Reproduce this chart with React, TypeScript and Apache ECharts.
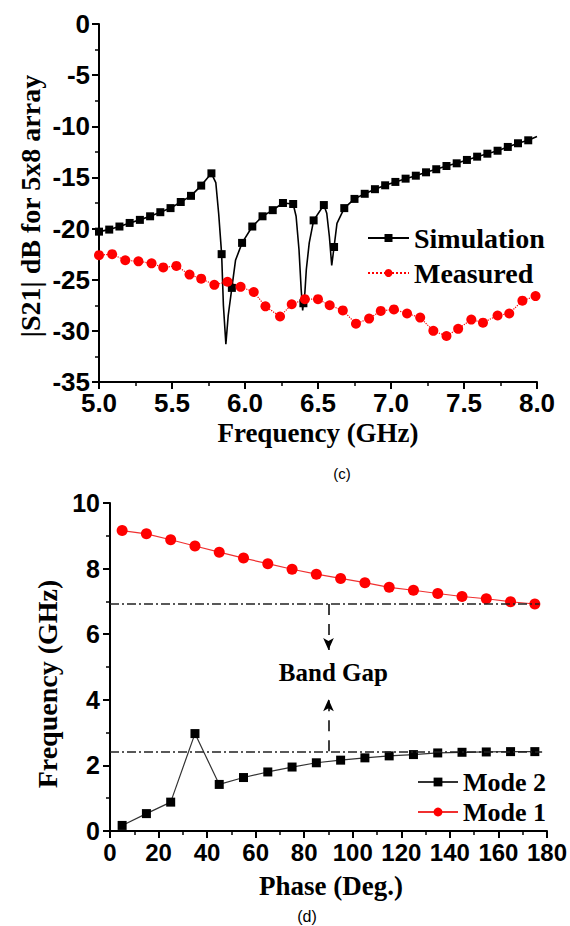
import React, { useEffect, useRef } from 'react';
import * as echarts from 'echarts';

// ---------- (c) |S21| chart data ----------
const simMarkerFreq = [
  5.0, 5.07, 5.14, 5.21, 5.28, 5.35, 5.42, 5.49, 5.56, 5.63, 5.7, 5.77, 5.84, 5.91, 5.98,
  6.05, 6.12, 6.19, 6.26, 6.33, 6.4, 6.47, 6.54, 6.61, 6.68, 6.75, 6.82, 6.89, 6.96, 7.03,
  7.1, 7.17, 7.24, 7.31, 7.38, 7.45, 7.52, 7.59, 7.66, 7.73, 7.8, 7.87, 7.94,
];
const simMarkerDb = [
  -20.3, -20.1, -19.8, -19.45, -19.15, -18.8, -18.4, -18.0, -17.4, -16.8, -15.8, -14.6, -22.5, -25.8, -21.4,
  -19.8, -18.8, -18.2, -17.5, -17.6, -27.3, -19.2, -17.7, -21.8, -18.0, -17.1, -16.6, -16.15, -15.77, -15.44,
  -15.12, -14.83, -14.5, -14.2, -13.88, -13.62, -13.29, -12.97, -12.68, -12.39, -12.02, -11.66, -11.37,
];
// extra points of the simulated curve between markers (resonance dips)
const simCurveFreq = [5.8, 5.82, 5.852, 5.869, 5.885, 5.935, 6.35, 6.37, 6.385, 6.395, 6.41, 6.42, 6.44, 6.56, 6.578, 6.594, 6.63, 8.0];
const simCurveDb = [-15.5, -18.6, -27.5, -31.3, -28.5, -23.1, -18.8, -22.1, -26.0, -28.0, -26.3, -24.0, -21.4, -18.5, -20.8, -23.6, -19.5, -11.0];

const measFreq = [
  5.0, 5.09, 5.18, 5.27, 5.36, 5.44, 5.53, 5.62, 5.7, 5.79, 5.88, 5.97, 6.06, 6.14, 6.24, 6.32, 6.41, 6.5,
  6.58, 6.67, 6.76, 6.85, 6.93, 7.02, 7.11, 7.2, 7.29, 7.38, 7.46, 7.55, 7.63, 7.73, 7.81, 7.9, 7.99,
];
const measDb = [
  -22.6, -22.5, -23.1, -23.2, -23.4, -23.8, -23.65, -24.5, -24.9, -25.5, -25.2, -25.7, -26.2, -27.6, -28.6, -27.4, -26.9, -26.9,
  -27.5, -28.0, -29.3, -28.8, -28.05, -27.9, -28.3, -28.7, -30.0, -30.5, -29.8, -28.9, -29.2, -28.5, -28.3, -27.05, -26.6,
];

// ---------- (d) dispersion chart data ----------
const phase = [5, 15, 25, 35, 45, 55, 65, 75, 85, 95, 105, 115, 125, 135, 145, 155, 165, 175];
const mode2 = [0.17, 0.53, 0.88, 2.97, 1.42, 1.63, 1.8, 1.95, 2.08, 2.16, 2.23, 2.29, 2.33, 2.38, 2.4, 2.41, 2.42, 2.42];
const mode1 = [9.16, 9.06, 8.88, 8.69, 8.5, 8.32, 8.15, 7.98, 7.83, 7.7, 7.57, 7.43, 7.34, 7.24, 7.15, 7.08, 6.99, 6.92];
const gapTop = 6.92;
const gapBottom = 2.43;
const arrowPhase = 90;
const arrowDownTip = 5.52;
const arrowUpTip = 4.02;
const bandGapLabelPos = [92, 4.84];

const SERIF = '"Liberation Serif", "Times New Roman", serif';
const SANS = '"Liberation Sans", Arial, sans-serif';

function axisCommon(fontSize: number, margin: number) {
  return {
    axisLine: { show: true, onZero: false, lineStyle: { color: '#000', width: 2 } },
    axisTick: { show: true, inside: false, length: 7, lineStyle: { color: '#000', width: 2 } },
    minorTick: { show: true, splitNumber: 2, length: 4, lineStyle: { color: '#000', width: 1.5 } },
    splitLine: { show: false },
    minorSplitLine: { show: false },
    axisLabel: { color: '#000', fontFamily: SANS, fontWeight: 'bold', fontSize, margin },
  };
}

function textEl(text: string, x: number, y: number, fontSize: number, opts: any = {}) {
  return {
    type: 'text',
    x,
    y,
    rotation: opts.rotation || 0,
    style: {
      text,
      fill: '#000',
      fontSize,
      fontFamily: opts.family || SERIF,
      fontWeight: opts.weight || 'bold',
      align: 'center',
      verticalAlign: 'middle',
      textAlign: 'center',
      textVerticalAlign: 'middle',
    },
  };
}

export default function App() {
  const ref = useRef<HTMLDivElement>(null);

  useEffect(() => {
    if (!ref.current) return;
    const chart = echarts.init(ref.current, null, { renderer: 'svg' });

    const simPoints: { f: number; d: number; m: boolean }[] = [];
    simMarkerFreq.forEach((f, i) => simPoints.push({ f, d: simMarkerDb[i], m: true }));
    simCurveFreq.forEach((f, i) => simPoints.push({ f, d: simCurveDb[i], m: false }));
    simPoints.sort((a, b) => a.f - b.f);
    const simData = simPoints.map((p) =>
      p.m ? { value: [p.f, p.d] } : { value: [p.f, p.d], symbol: 'none' }
    );

    const dashDot = { color: '#222', width: 1.5, type: [9, 3, 2, 3] };
    const dashed = { color: '#000', width: 1.5, type: [11, 9] };

    const legendText = { color: '#000', fontFamily: SERIF, fontWeight: 'bold' };
    const topXLabel = axisCommon(26, 8).axisLabel;

    const option: any = {
      animation: false,
      grid: [
        { left: 99, top: 24, width: 438, height: 358 },
        { left: 110, top: 503, width: 437, height: 328 },
      ],
      xAxis: [
        {
          type: 'value', gridIndex: 0, min: 5, max: 8, interval: 0.5,
          ...axisCommon(26, 8),
          axisLabel: { ...topXLabel, formatter: (v: number) => v.toFixed(1) },
        },
        {
          type: 'value', gridIndex: 1, min: 0, max: 180, interval: 20,
          ...axisCommon(24, 9),
        },
      ],
      yAxis: [
        { type: 'value', gridIndex: 0, min: -35, max: 0, interval: 5, ...axisCommon(26, 9) },
        { type: 'value', gridIndex: 1, min: 0, max: 10, interval: 2, ...axisCommon(25, 10) },
      ],
      legend: [
        {
          data: ['Simulation', 'Measured'],
          orient: 'vertical', left: 362, top: 219,
          itemWidth: 41, itemHeight: 10, itemGap: 7,
          textStyle: { ...legendText, fontSize: 28, lineHeight: 28 },
        },
        {
          data: ['Mode 2', 'Mode 1'],
          orient: 'vertical', left: 412, top: 764,
          itemWidth: 40, itemHeight: 11, itemGap: 4,
          textStyle: { ...legendText, fontSize: 26, lineHeight: 26 },
        },
      ],
      series: [
        {
          name: 'Simulation', type: 'line', xAxisIndex: 0, yAxisIndex: 0,
          data: simData, symbol: 'rect', symbolSize: 8, showAllSymbol: true,
          itemStyle: { color: '#000' }, lineStyle: { color: '#000', width: 1.6 },
        },
        {
          name: 'Measured', type: 'line', xAxisIndex: 0, yAxisIndex: 0,
          data: measFreq.map((f, i) => [f, measDb[i]]), symbol: 'circle', symbolSize: 10,
          itemStyle: { color: '#ff0000' }, lineStyle: { color: '#ff0000', width: 1.2, type: 'dotted' },
        },
        {
          name: 'Mode 2', type: 'line', xAxisIndex: 1, yAxisIndex: 1,
          data: phase.map((p, i) => [p, mode2[i]]), symbol: 'rect', symbolSize: 9,
          itemStyle: { color: '#000' }, lineStyle: { color: '#333', width: 1.2 },
          markLine: {
            silent: true, symbol: 'none', label: { show: false }, animation: false,
            data: [
              [{ coord: [0, gapTop], lineStyle: dashDot }, { coord: [177, gapTop] }],
              [{ coord: [0, gapBottom], lineStyle: dashDot }, { coord: [178, gapBottom] }],
              [
                { coord: [arrowPhase, gapTop], symbol: 'none', lineStyle: dashed },
                { coord: [arrowPhase, arrowDownTip], symbol: 'arrow', symbolSize: [8, 12] },
              ],
              [
                { coord: [arrowPhase, gapBottom], symbol: 'none', lineStyle: dashed },
                { coord: [arrowPhase, arrowUpTip], symbol: 'arrow', symbolSize: [8, 12] },
              ],
            ],
          },
          markPoint: {
            silent: true,
            data: [
              {
                coord: bandGapLabelPos, symbol: 'rect', symbolSize: 0,
                label: {
                  show: true, formatter: 'Band Gap', position: 'inside',
                  color: '#000', fontFamily: SERIF, fontWeight: 'bold', fontSize: 25,
                },
              },
            ],
          },
        },
        {
          name: 'Mode 1', type: 'line', xAxisIndex: 1, yAxisIndex: 1,
          data: phase.map((p, i) => [p, mode1[i]]), symbol: 'circle', symbolSize: 11,
          itemStyle: { color: '#ff0000' }, lineStyle: { color: '#f03030', width: 1.2 },
        },
      ],
      graphic: [
        textEl('|S21| dB for 5x8 array', 30, 206, 28, { rotation: Math.PI / 2 }),
        textEl('Frequency (GHz)', 318, 433, 27),
        textEl('(c)', 342, 473, 15, { family: SANS, weight: 'normal' }),
        textEl('Frequency (GHz)', 47, 684, 28, { rotation: Math.PI / 2 }),
        textEl('Phase (Deg.)', 331, 886, 27),
        textEl('(d)', 307, 916, 16, { family: SANS, weight: 'normal' }),
      ],
    };

    chart.setOption(option);
    return () => chart.dispose();
  }, []);

  return (
    <div
      ref={ref}
      style={{ position: 'absolute', left: 0, top: 0, width: 570, height: 926, background: '#fff' }}
    />
  );
}
